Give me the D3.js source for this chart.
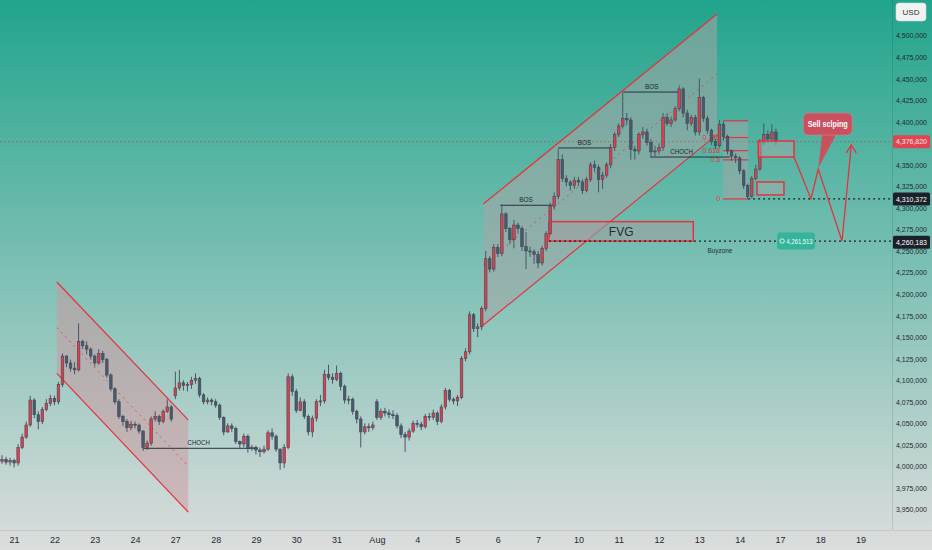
<!DOCTYPE html>
<html><head><meta charset="utf-8">
<script src="https://d3js.org/d3.v7.min.js"></script>
<style>html,body{margin:0;padding:0;overflow:hidden;background:#dcdddd}</style>
</head><body><svg id="c" width="932" height="550"></svg>
<script>
// ---------- DATA ----------
const dayLabels = ["21","22","23","24","27","28","29","30","31","Aug","4","5","6","7","10","11","12","13","14","17","18","19"];
const barsPerDay = 10;
const firstIndex = -3;
const opens = [4006,4008,4005,
4007,4004,4022,4034,4048,4077,4060,4052,4066,4073,
4079,4075,4095,4128,4120,4114,4112,4145,4140,4136,
4128,4120,4131,4124,4106,4090,4075,4058,4052,4045,
4049,4048,4041,4022,4027,4055,4058,4052,4064,4069,
4082,4091,4097,4094,4095,4100,4102,4083,4075,4077,
4075,4071,4057,4040,4047,4044,4029,4026,4035,4021,
4022,4019,4017,4020,4039,4035,4020,4004,4022,4104,
4087,4065,4075,4058,4040,4056,4075,4076,4107,4103,
4101,4108,4093,4077,4078,4064,4055,4040,4046,4045,
4075,4057,4064,4062,4060,4059,4047,4037,4034,4041,
4050,4049,4046,4058,4057,4062,4052,4069,4088,4078,
4076,4080,4125,4133,4176,4160,4162,4183,4241,4229,
4254,4247,4293,4276,4263,4280,4276,4255,4250,4249,
4246,4236,4253,4270,4302,4313,4356,4334,4330,4326,
4332,4330,4320,4333,4350,4347,4333,4338,4350,4370,
4385,4395,4404,4402,4368,4366,4385,4388,4376,4365,
4366,4370,4405,4398,4402,4415,4438,4410,4398,4405,
4388,4428,4404,4390,4377,4372,4397,4383,4366,4360,
4358,4343,4326,4313,4334,4345,4376,4385,4380,4388];
const highs = [4013,4011,4010,
4009,4026,4038,4052,4082,4079,4064,4069,4078,4083,
4082,4098,4131,4129,4124,4121,4166,4147,4145,4138,
4130,4136,4134,4126,4108,4092,4078,4060,4055,4053,
4052,4050,4042,4030,4058,4064,4060,4066,4078,4071,
4110,4112,4100,4098,4104,4108,4104,4085,4080,4079,
4078,4073,4058,4050,4050,4046,4030,4038,4037,4025,
4024,4022,4024,4042,4044,4037,4021,4026,4108,4107,
4090,4080,4078,4060,4059,4078,4083,4112,4118,4108,
4117,4110,4095,4082,4080,4066,4058,4050,4050,4052,
4078,4067,4068,4066,4065,4062,4050,4040,4044,4053,
4054,4052,4061,4062,4066,4064,4072,4091,4090,4080,
4083,4128,4137,4180,4178,4166,4186,4250,4244,4258,
4258,4304,4295,4278,4286,4283,4279,4272,4255,4252,
4250,4256,4273,4306,4318,4368,4362,4338,4332,4336,
4336,4333,4336,4353,4355,4350,4342,4353,4374,4388,
4398,4434,4410,4405,4372,4388,4394,4392,4380,4372,
4375,4410,4410,4406,4418,4442,4440,4414,4408,4408,
4450,4430,4407,4392,4380,4402,4400,4385,4368,4363,
4360,4345,4328,4337,4350,4380,4398,4390,4397,4392];
const lows = [4003,4002,4001,
3999,4001,4020,4032,4046,4056,4043,4049,4064,4070,
4071,4072,4092,4115,4110,4107,4110,4136,4130,4124,
4116,4118,4120,4103,4087,4072,4055,4047,4040,4042,
4044,4038,4018,4019,4024,4052,4048,4050,4062,4052,
4078,4088,4088,4087,4090,4096,4080,4072,4072,4071,
4068,4054,4036,4039,4040,4026,4020,4022,4016,4018,
4014,4011,4015,4018,4031,4017,3996,3998,4020,4082,
4062,4064,4055,4036,4034,4052,4070,4073,4100,4096,
4099,4088,4073,4072,4060,4050,4022,4037,4040,4042,
4054,4054,4058,4056,4055,4044,4033,4017,4030,4039,
4045,4042,4044,4053,4054,4048,4050,4066,4075,4072,
4070,4078,4122,4130,4156,4150,4158,4180,4225,4226,
4243,4244,4272,4258,4253,4270,4250,4229,4243,4235,
4230,4233,4250,4268,4298,4310,4330,4325,4320,4322,
4325,4316,4318,4330,4342,4318,4322,4335,4346,4366,
4382,4392,4396,4356,4356,4362,4380,4372,4359,4360,
4362,4366,4395,4394,4400,4412,4405,4390,4395,4384,
4384,4400,4386,4373,4368,4370,4378,4362,4355,4352,
4339,4322,4310,4311,4332,4343,4373,4375,4376,4373];
const closes = [4008,4005,4007,
4004,4022,4034,4048,4077,4060,4052,4066,4073,4079,
4075,4095,4128,4120,4114,4112,4145,4140,4136,4128,
4120,4131,4124,4106,4090,4075,4058,4052,4045,4049,
4048,4041,4022,4027,4055,4058,4052,4064,4069,4055,
4091,4097,4094,4095,4100,4102,4083,4075,4077,4075,
4071,4057,4040,4047,4044,4029,4026,4035,4021,4022,
4019,4017,4020,4039,4035,4020,4004,4022,4104,4087,
4065,4075,4058,4040,4056,4075,4076,4107,4103,4101,
4108,4093,4077,4078,4064,4055,4040,4046,4045,4048,
4057,4064,4062,4060,4059,4047,4037,4034,4041,4050,
4049,4046,4058,4057,4062,4052,4069,4088,4078,4076,
4080,4125,4133,4176,4160,4162,4183,4241,4229,4254,
4247,4293,4276,4263,4280,4276,4255,4250,4249,4246,
4236,4253,4270,4302,4313,4356,4334,4330,4326,4332,
4330,4320,4333,4350,4347,4333,4338,4350,4370,4385,
4395,4404,4402,4368,4366,4385,4388,4376,4365,4366,
4370,4405,4398,4402,4415,4438,4410,4398,4405,4388,
4428,4404,4390,4377,4372,4397,4383,4366,4360,4358,
4343,4326,4313,4334,4345,4376,4385,4380,4388,4376.82];
const priceTicks = d3.range(3950, 4501, 25);
const lastPrice = 4376.82;
const swingLow = 4310.372;
const buyZone = 4261.513;
const axisMark = 4260.183;
const fibLevels = [0, 0.5, 0.618, 0.786, 1];
const fibLabels = ["0", "0.5", "0.618", "0.786", ""];

// ---------- LAYOUT ----------
const W = 932, H = 550, plotR = 892, plotB = 530;
const FONT = "'Liberation Sans','Roboto',Arial,sans-serif";
const svg = d3.select("#c");
const x = d3.scaleLinear().domain([-3.5, 217.8]).range([0, plotR]);
const y = d3.scaleLinear().domain([3950, 4500]).range([509.5, 35.5]);

const defs = svg.append("defs");
const g = defs.append("linearGradient").attr("id","bg").attr("x1",0).attr("y1",0).attr("x2",0).attr("y2",1);
g.append("stop").attr("offset","0%").attr("stop-color","#21a48c");
g.append("stop").attr("offset","100%").attr("stop-color","#dcdddd");
defs.append("clipPath").attr("id","plot").append("rect").attr("x",0).attr("y",0).attr("width",plotR).attr("height",plotB);
svg.append("rect").attr("width",W).attr("height",H).attr("fill","url(#bg)");

const plot = svg.append("g").attr("clip-path","url(#plot)");
const RED = "#e5323f";

// ---------- DRAWINGS BELOW CANDLES ----------
function para(i0,i1,t0,t1,b0,b1,fill){
  plot.append("path").attr("d",`M${x(i0)},${y(t0)}L${x(i1)},${y(t1)}L${x(i1)},${y(b1)}L${x(i0)},${y(b0)}Z`).attr("fill",fill);
  plot.append("line").attr("x1",x(i0)).attr("y1",y(t0)).attr("x2",x(i1)).attr("y2",y(t1)).attr("stroke",RED).attr("stroke-width",1.2);
  plot.append("line").attr("x1",x(i0)).attr("y1",y(b0)).attr("x2",x(i1)).attr("y2",y(b1)).attr("stroke",RED).attr("stroke-width",1.2);
  plot.append("line").attr("x1",x(i0)).attr("y1",y((t0+b0)/2)).attr("x2",x(i1)).attr("y2",y((t1+b1)/2))
    .attr("stroke",RED).attr("stroke-width",1).attr("stroke-dasharray","2,4").attr("opacity",0.75);
}
para(10.6, 43.2, 4214, 4054, 4108, 3947, "rgba(205,150,158,0.5)");
para(116.4, 174.4, 4304.5, 4525, 4164, 4385, "rgba(165,165,165,0.55)");

plot.append("line").attr("x1",0).attr("x2",plotR).attr("y1",y(lastPrice)).attr("y2",y(lastPrice))
  .attr("stroke",RED).attr("stroke-width",0.8).attr("stroke-dasharray","1.5,2.5").attr("opacity",0.8);

// FVG box
const fvgI0 = 132.7, fvgI1 = 168.5, fvgTop = 4284;
plot.append("rect").attr("x",x(fvgI0)).attr("y",y(fvgTop)).attr("width",x(fvgI1)-x(fvgI0)).attr("height",y(buyZone)-y(fvgTop))
  .attr("fill","rgba(160,160,160,0.6)").attr("stroke",RED).attr("stroke-width",1.5);
plot.append("text").attr("x",(x(fvgI0)+x(fvgI1))/2).attr("y",(y(fvgTop)+y(buyZone))/2).attr("dy","0.36em")
  .attr("text-anchor","middle").attr("font-family",FONT).attr("font-size",12).attr("fill","#262b33").text("FVG");
plot.append("line").attr("x1",x(fvgI0)).attr("x2",plotR).attr("y1",y(buyZone)).attr("y2",y(buyZone))
  .attr("stroke","#1b1f26").attr("stroke-width",1.3).attr("stroke-dasharray","2,3");
plot.append("text").attr("x",x(172)).attr("y",y(buyZone)+12).attr("font-family",FONT).attr("font-size",8)
  .attr("textLength",25).attr("lengthAdjust","spacingAndGlyphs").attr("fill","#263038").text("Buyzone");

// Fib box
const fibI0 = 175.9, fibI1 = 182.1, fibHigh = 4401, fibLow = swingLow;
plot.append("rect").attr("x",x(fibI0)).attr("y",y(fibHigh)).attr("width",x(fibI1)-x(fibI0)).attr("height",y(fibLow)-y(fibHigh))
  .attr("fill","rgba(165,165,165,0.5)");
fibLevels.forEach((lv,k)=>{
  const p = fibLow + (fibHigh-fibLow)*lv;
  plot.append("line").attr("x1",x(fibI0)).attr("x2",x(fibI1)).attr("y1",y(p)).attr("y2",y(p)).attr("stroke",RED).attr("stroke-width",1.2);
  if(fibLabels[k]) plot.append("text").attr("x",x(fibI0)-3).attr("y",y(p)).attr("dy","0.35em").attr("text-anchor","end")
    .attr("font-family",FONT).attr("font-size",7).attr("fill",RED).text(fibLabels[k]);
});
plot.append("line").attr("x1",x(fibI1)).attr("x2",plotR).attr("y1",y(swingLow)).attr("y2",y(swingLow))
  .attr("stroke","#1b1f26").attr("stroke-width",1.3).attr("stroke-dasharray","2,3");

// structure lines (BOS / CHOCH)
const structI0 = [120.6, 135, 151.1, 157.8, 32];
const structI1 = [133.7, 147.9, 165.2, 177.6, 60.5];
const structP = [4303, 4369.5, 4434.4, 4359, 4021];
const structT = ["BOS","BOS","BOS","CHOCH","CHOCH"];
const structTextI = [127, 141.5, 158.2, 165.6, 45.8];
structT.forEach((t,k)=>{
  plot.append("line").attr("x1",x(structI0[k])).attr("x2",x(structI1[k])).attr("y1",y(structP[k])).attr("y2",y(structP[k]))
    .attr("stroke","#28323c").attr("stroke-width",1);
  plot.append("text").attr("x",x(structTextI[k])).attr("y",y(structP[k])-3).attr("text-anchor","middle")
    .attr("font-family",FONT).attr("font-size",7).attr("textLength",t.length*4.5).attr("lengthAdjust","spacingAndGlyphs")
    .attr("fill","#1e2831").text(t);
});

// ---------- CANDLES ----------
const bw = 2.6;
const idx = closes.map((c,k)=>k+firstIndex);
const cg = plot.append("g");
cg.selectAll("line.w").data(idx).join("line")
  .attr("x1",i=>x(i)).attr("x2",i=>x(i))
  .attr("y1",i=>y(highs[i-firstIndex])).attr("y2",i=>y(lows[i-firstIndex]))
  .attr("stroke","#4a5665").attr("stroke-width",1);
cg.selectAll("rect.b").data(idx).join("rect")
  .attr("x",i=>x(i)-bw/2)
  .attr("y",i=>y(Math.max(opens[i-firstIndex],closes[i-firstIndex])))
  .attr("width",bw)
  .attr("height",i=>Math.max(1,Math.abs(y(opens[i-firstIndex])-y(closes[i-firstIndex]))))
  .attr("fill",i=>closes[i-firstIndex]>=opens[i-firstIndex]?"#e33c4b":"#4b5a6b")
  .attr("stroke","#3e4a57").attr("stroke-width",0.6);

// ---------- DRAWINGS ABOVE CANDLES ----------
const boxI0 = [184.6, 184.3], boxI1 = [193.5, 191], boxTop = [4377.6, 4330], boxBot = [4359, 4315];
boxI0.forEach((v,k)=>{
  plot.append("rect").attr("x",x(v)).attr("y",y(boxTop[k])).attr("width",x(boxI1[k])-x(v)).attr("height",y(boxBot[k])-y(boxTop[k]))
    .attr("fill","rgba(170,170,170,0.45)").attr("stroke",RED).attr("stroke-width",1.5);
});
const zzI = [193.5, 197.7, 199.5, 205.4, 207.7];
const zzP = [4359, swingLow, 4345, buyZone, 4373];
const zz = d3.line()(zzI.map((v,k)=>[x(v),y(zzP[k])]));
plot.append("path").attr("d",zz).attr("fill","none").attr("stroke",RED).attr("stroke-width",1.3);
const tipX = x(zzI[4]), tipY = y(zzP[4]);
plot.append("path").attr("d",`M${tipX-5},${tipY+8}L${tipX},${tipY}L${tipX+5},${tipY+8}`).attr("fill","none").attr("stroke",RED).attr("stroke-width",1.3);

// sell callout
const cI0 = 195.8, cI1 = 207.9, cTop = 4410, cBot = 4384.5;
const cx0 = x(cI0), cx1 = x(cI1), cy0 = y(cTop), cy1 = y(cBot);
plot.append("path").attr("d",`M${cx0+19},${cy1-1}L${x(199.5)},${y(4346)}L${cx0+33},${cy1-1}Z`).attr("fill","#c9515f");
plot.append("rect").attr("x",cx0).attr("y",cy0).attr("width",cx1-cx0).attr("height",cy1-cy0).attr("rx",5)
  .attr("fill","#c9515f").attr("stroke","#d87f89").attr("stroke-width",0.6);
plot.append("text").attr("x",(cx0+cx1)/2).attr("y",(cy0+cy1)/2).attr("dy","0.36em").attr("text-anchor","middle")
  .attr("font-family",FONT).attr("font-size",9).attr("font-weight","bold").attr("textLength",40).attr("lengthAdjust","spacingAndGlyphs")
  .attr("fill","#ffffff").text("Sell sclping");

// buy zone price tag
const tI0 = 189.3, tI1 = 198.7;
plot.append("rect").attr("x",x(tI0)).attr("y",y(buyZone)-8.5).attr("width",x(tI1)-x(tI0)).attr("height",17).attr("rx",3)
  .attr("fill","#35b49c");
plot.append("circle").attr("cx",x(tI0)+5).attr("cy",y(buyZone)).attr("r",2.2).attr("fill","none").attr("stroke","#e8f5f2").attr("stroke-width",0.9);
plot.append("text").attr("x",x(tI0)+9.5).attr("y",y(buyZone)).attr("dy","0.35em")
  .attr("font-family",FONT).attr("font-size",7.5).attr("textLength",26).attr("lengthAdjust","spacingAndGlyphs")
  .attr("fill","#f2fbf9").text(d3.format(",")(Math.round(buyZone*1000)));

// ---------- AXES ----------
svg.append("line").attr("x1",plotR+0.5).attr("x2",plotR+0.5).attr("y1",0).attr("y2",plotB).attr("stroke","rgba(0,0,0,0.10)");
svg.append("line").attr("x1",0).attr("x2",W).attr("y1",plotB+0.5).attr("y2",plotB+0.5).attr("stroke","rgba(0,0,0,0.08)");

// ticks hidden behind the last-price tag are dropped, as the platform does
const shownTicks = priceTicks.filter(v=>Math.abs(y(v)-y(lastPrice))>=6);
const yAxis = d3.axisRight(y).tickValues(shownTicks).tickSize(0).tickPadding(4)
  .tickFormat(v=>d3.format(",")(v*1000));
const ya = svg.append("g").attr("transform",`translate(${plotR},0)`).call(yAxis);
ya.select(".domain").remove();
ya.selectAll("text").attr("font-family",FONT).attr("font-size",7.6).attr("textLength",31).attr("lengthAdjust","spacingAndGlyphs").attr("fill","#1f2830");

const xAxis = d3.axisBottom(x).tickValues(dayLabels.map((d,k)=>k*barsPerDay)).tickSize(0).tickPadding(7)
  .tickFormat((v,k)=>dayLabels[k]);
const xa = svg.append("g").attr("transform",`translate(0,${plotB})`).call(xAxis);
xa.select(".domain").remove();
xa.selectAll("text").attr("font-family",FONT).attr("font-size",9).attr("fill","#1f2830");

function tag(p, fill, color){
  svg.append("rect").attr("x",plotR+1).attr("y",y(p)-6.5).attr("width",W-plotR-3).attr("height",13).attr("rx",1.5).attr("fill",fill);
  svg.append("text").attr("x",plotR+4).attr("y",y(p)).attr("dy","0.35em").attr("font-family",FONT).attr("font-size",7.6)
    .attr("textLength",31).attr("lengthAdjust","spacingAndGlyphs")
    .attr("fill",color).text(d3.format(",")(Math.round(p*1000)));
}
tag(lastPrice, "#e24552", "#fbe9ea");
tag(swingLow, "#1c2029", "#ffffff");
tag(axisMark, "#1c2029", "#ffffff");

svg.append("rect").attr("x",896).attr("y",3).attr("width",30).attr("height",18).attr("rx",3)
  .attr("fill","#f1f3f2").attr("stroke","#cfd6d4").attr("stroke-width",0.6);
svg.append("text").attr("x",911).attr("y",12).attr("dy","0.35em").attr("text-anchor","middle")
  .attr("font-family",FONT).attr("font-size",8).attr("fill","#2a2f36").text("USD");
</script></body></html>
